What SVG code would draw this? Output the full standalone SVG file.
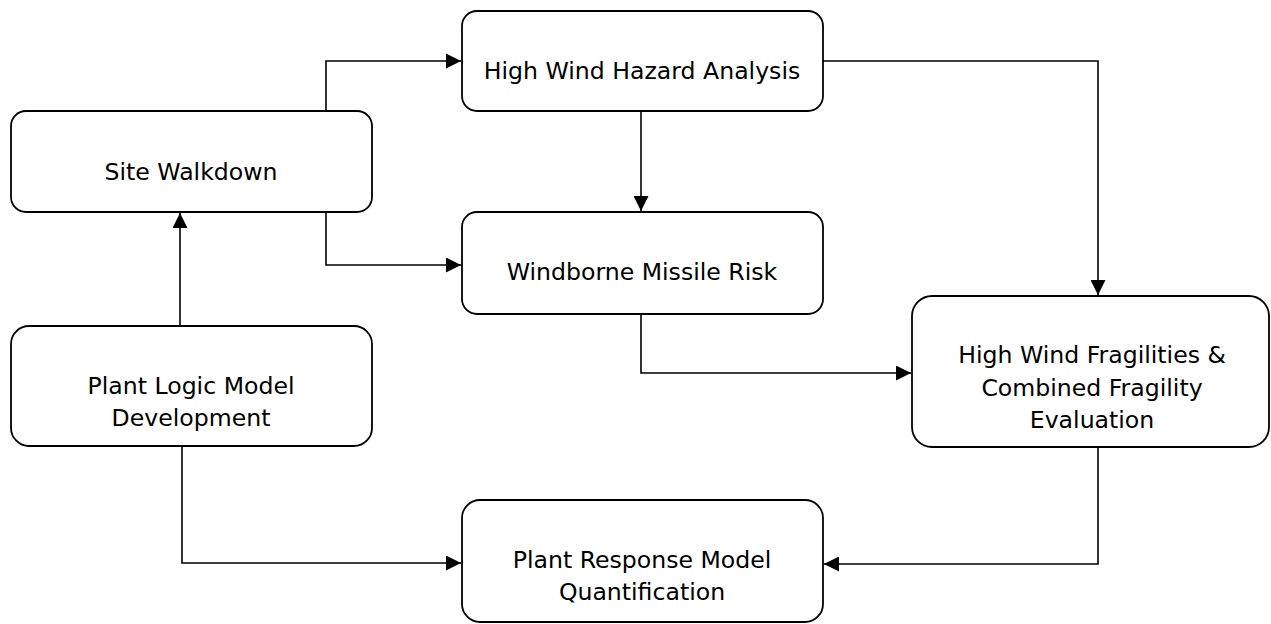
<svg xmlns="http://www.w3.org/2000/svg" width="1271" height="624" viewBox="0 0 1271 624">
<style>
.box{fill:#fff;stroke:#000;stroke-width:1.8}
.lbl{font-family:"DejaVu Sans",Verdana,sans-serif;font-size:23.6px;fill:#000;text-anchor:middle}
.con{fill:none;stroke:#000;stroke-width:1.6}
</style>
<defs>
<marker id="ah" markerWidth="16" markerHeight="15" refX="15" refY="7.5" orient="auto" markerUnits="userSpaceOnUse">
<path d="M0,0 L15,7.5 L0,15 Z" fill="#000"/>
</marker>
</defs>
<rect width="1271" height="624" fill="#fff"/>
<g id="n-site">
<rect class="box" x="11" y="111" width="361" height="101" rx="15"/>
<text class="lbl" x="191" y="180">Site Walkdown</text>
</g>
<g id="n-hazard">
<rect class="box" x="462" y="11" width="361" height="100" rx="15"/>
<text class="lbl" x="642" y="79">High Wind Hazard Analysis</text>
</g>
<g id="n-missile">
<rect class="box" x="462" y="212" width="361" height="102" rx="15"/>
<text class="lbl" x="642" y="280">Windborne Missile Risk</text>
</g>
<g id="n-frag">
<rect class="box" x="912" y="296" width="357" height="151" rx="20"/>
<text class="lbl" x="1092" y="363">High Wind Fragilities &amp;</text>
<text class="lbl" x="1092" y="396">Combined Fragility</text>
<text class="lbl" x="1092" y="428">Evaluation</text>
</g>
<g id="n-logic">
<rect class="box" x="11" y="326" width="361" height="120" rx="18"/>
<text class="lbl" x="191" y="394">Plant Logic Model</text>
<text class="lbl" x="191" y="426">Development</text>
</g>
<g id="n-response">
<rect class="box" x="462" y="500" width="361" height="122" rx="18"/>
<text class="lbl" x="642" y="568">Plant Response Model</text>
<text class="lbl" x="642" y="600">Quantification</text>
</g>
<g id="connectors">
<path class="con" d="M191,111 H326 V61 H461" marker-end="url(#ah)"/>
<path class="con" d="M191,212 H326 V265 H461" marker-end="url(#ah)"/>
<path class="con" d="M180,326 V213" marker-end="url(#ah)"/>
<path class="con" d="M182,446 V563 H461" marker-end="url(#ah)"/>
<path class="con" d="M641,111 V211" marker-end="url(#ah)"/>
<path class="con" d="M823,61 H1098 V295" marker-end="url(#ah)"/>
<path class="con" d="M641,314 V373 H911" marker-end="url(#ah)"/>
<path class="con" d="M1098,447 V564 H824" marker-end="url(#ah)"/>
</g>
</svg>
